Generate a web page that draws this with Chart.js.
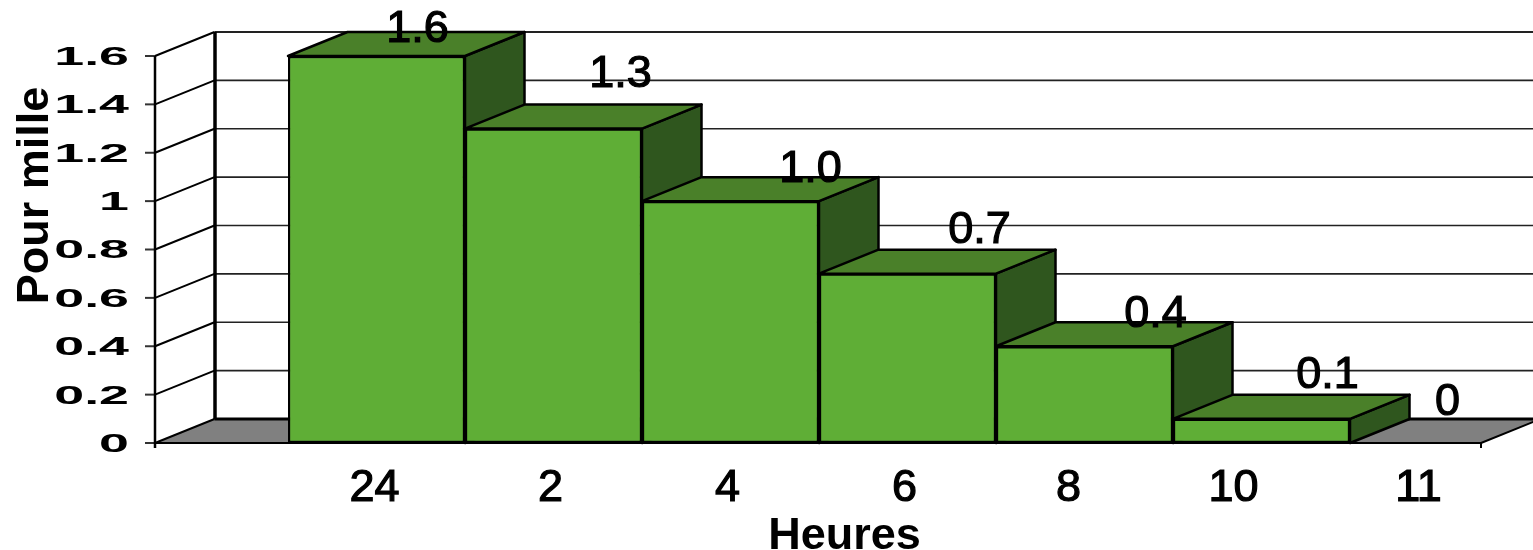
<!DOCTYPE html>
<html><head><meta charset="utf-8">
<style>html,body{margin:0;padding:0;background:#fff;overflow:hidden}canvas{display:block}</style>
<script src="https://cdn.jsdelivr.net/npm/chart.js@4"></script>
</head><body><canvas id="c" width="1533" height="550"></canvas>
<script>
const categories = ['24','2','4','6','8','10','11'];
const values = [1.6,1.3,1.0,0.7,0.4,0.1,0];
const valueLabels = ['1.6','1.3','1.0','0.7','0.4','0.1','0'];
const xAxisTitle = 'Heures';
const yAxisTitle = 'Pour mille';

const DX = 59.5, DY = -24, WALL_L = 155, FLOOR_R = 1481;
const labelNudgeX = [-2,-3,-3,-3,-16,-28,-20];
const valueOffsets = [[41,-28],[67,-56],[80,-34],[72,-45],[71,-34],[66,-45],[9,-42]];

function line(ctx,x1,y1,x2,y2,w,c){ctx.beginPath();ctx.moveTo(x1,y1);ctx.lineTo(x2,y2);ctx.lineWidth=w;ctx.strokeStyle=c||'#000';ctx.stroke();}
function poly(ctx,pts,fill,w){ctx.beginPath();pts.forEach((p,i)=>i?ctx.lineTo(p[0],p[1]):ctx.moveTo(p[0],p[1]));ctx.closePath();ctx.fillStyle=fill;ctx.fill();ctx.lineWidth=w;ctx.strokeStyle='#000';ctx.lineJoin='round';ctx.stroke();}

const scene = {
  id:'scene',
  beforeDraw(chart){
    const {x,y} = chart.scales;
    if(!y._wrapped){
      y._wrapped = x._wrapped = true;
      const yL=y.drawLabels.bind(y), yT=y.drawTitle.bind(y), xL=x.drawLabels.bind(x), xT=x.drawTitle.bind(x);
      y.drawLabels=function(a){const c=chart.ctx;c.save();c.translate(129,2);c.scale(2.15,1);c.translate(-272,0);yL(a);c.restore();};
      y.drawTitle=function(){const c=chart.ctx;c.save();c.translate(0,-54);yT();c.restore();};
      x.drawTitle=function(){const c=chart.ctx;c.save();c.translate(-63,14);xT();c.restore();};
      x.drawLabels=function(a){x.getLabelItems(a).forEach((it,i)=>{if(!it._n){it._n=1;it.options.translation[0]+=labelNudgeX[i];}});xL(a);};
    }
    const c=chart.ctx, y0=y.getPixelForValue(0), yTop=y.getPixelForValue(1.6), R=chart.width+20;
    c.save();
    poly(c,[[WALL_L,y0],[WALL_L+DX,y0+DY],[R,y0+DY],[FLOOR_R+DX,y0+DY],[FLOOR_R,y0]],'#808080',0.01);
    y.ticks.forEach(t=>{
      const py=y.getPixelForValue(t.value), zero=t.value===0;
      line(c,WALL_L+DX,py+DY,R,py+DY,zero?3:(t.value===1.6?2:1.6),zero?'#000':'#222');
      line(c,WALL_L,py,WALL_L+DX,py+DY,2);
      line(c,WALL_L-10,py,WALL_L,py,2,'#333');
    });
    line(c,WALL_L,yTop,WALL_L,y0+5,2.5);
    line(c,WALL_L+DX+0.5,yTop+DY,WALL_L+DX+0.5,y0+DY,3.5);
    line(c,WALL_L,y0,FLOOR_R,y0,2);
    line(c,FLOOR_R,y0,FLOOR_R,y0+5,2);
    line(c,FLOOR_R,y0,FLOOR_R+DX,y0+DY,2);
    c.restore();
  },
  beforeDatasetsDraw(chart){
    const c=chart.ctx, bars=chart.getDatasetMeta(0).data;
    c.save();
    bars.forEach((b,i)=>{
      if(!(values[i]>0))return;
      const l=b.x-b.width/2, r=b.x+b.width/2, t=b.y, bt=b.base;
      poly(c,[[r,t],[r+DX,t+DY],[r+DX,bt+DY],[r,bt]],'#2F561E',2.5);
      poly(c,[[l,t],[l+DX,t+DY],[r+DX,t+DY],[r,t]],'#4A8029',2.5);
    });
    c.restore();
  },
  afterDatasetsDraw(chart){
    const c=chart.ctx, bars=chart.getDatasetMeta(0).data;
    c.save();
    c.font='45px "Liberation Sans"';c.fillStyle='#000';c.strokeStyle='#000';c.lineWidth=1.2;c.textAlign='center';c.textBaseline='middle';
    bars.forEach((b,i)=>{const X=b.x+valueOffsets[i][0],Y=b.y+valueOffsets[i][1]+2;c.fillText(valueLabels[i],X,Y);c.strokeText(valueLabels[i],X,Y);});
    c.restore();
  }
};

new Chart(document.getElementById('c'),{
  type:'bar',
  data:{labels:categories,datasets:[{data:values,backgroundColor:'#5FAE36',borderColor:'#000',borderWidth:2.5,borderSkipped:false,barPercentage:1,categoryPercentage:1}]},
  plugins:[scene],
  options:{
    responsive:false,animation:false,events:[],
    layout:{padding:{top:56,right:6,left:0,bottom:0}},
    plugins:{legend:{display:false},tooltip:{enabled:false}},
    scales:{
      x:{
        grid:{display:false},border:{display:false},
        afterFit(s){s.height=107;},
        ticks:{autoSkip:false,maxRotation:0,color:'#000',padding:11,font:{family:'"Liberation Sans"',size:45},textStrokeColor:'#000',textStrokeWidth:1.2},
        title:{display:true,text:xAxisTitle,color:'#000',padding:{top:0,bottom:0},font:{family:'"Liberation Sans"',size:45,weight:'bold'}}
      },
      y:{
        min:0,max:1.6,
        grid:{display:false},border:{display:false},
        afterFit(s){s.width=288;},
        ticks:{stepSize:0.2,color:'#000',padding:8,callback:v=>String(+v.toFixed(1)),font:{family:'"Liberation Sans"',size:25,weight:'bold'}},
        title:{display:true,text:yAxisTitle,color:'#000',padding:{top:9,bottom:0},font:{family:'"Liberation Sans"',size:45,weight:'bold'}}
      }
    }
  }
});
</script></body></html>
